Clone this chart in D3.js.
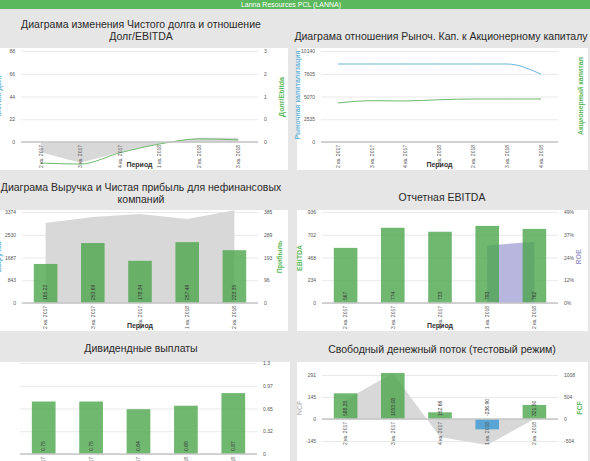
<!DOCTYPE html>
<html><head><meta charset="utf-8">
<script src="https://cdn.jsdelivr.net/npm/d3@7"></script>
<style>body{margin:0;background:#e6e6e6;font-family:"Liberation Sans",Arial,sans-serif}svg{display:block}</style>
</head><body><svg id="c" width="590" height="461"></svg>
<script>
const headerText = "Lanna Resources PCL (LANNA)";

// Panel 1: Net debt & Debt/EBITDA
const p1Cats = ["2 кв. 2017","3 кв. 2017","4 кв. 2017","1 кв. 2018","2 кв. 2018","3 кв. 2018"];
const p1NetDebt = [-10, -20, -10, -2, 4, 4];
const p1DebtEbitda = [-0.6, -0.63, -0.31, -0.06, 0.09, 0.06];
const p1LeftTicks = [0, 22, 44, 66, 88];
const p1LeftLabels = ["0","22","44","66","88"];
const p1RightTicks = [0, 0.65, 1.3, 1.95, 2.6];
const p1RightLabels = ["0","0","1","2","3"];

// Panel 2: Market cap vs equity
const p2Cats = ["2 кв. 2017","3 кв. 2017","4 кв. 2017","1 кв. 2018","2 кв. 2018","3 кв. 2018","4 кв. 2018"];
const p2MarketCap = [8690, 8690, 8690, 8690, 8690, 8690, 7550];
const p2Equity = [4350, 4600, 4570, 4710, 4790, 4790, 4790];
const p2LeftTicks = [0, 2535, 5070, 7605, 10140];
const p2LeftLabels = ["0","2535","5070","7605","10140"];

// Panel 3: Revenue & profit
const p3Cats = ["2 кв. 2017","3 кв. 2017","4 кв. 2017","1 кв. 2018","2 кв. 2018"];
const p3Revenue = [2966, 3189, 3300, 3115, 3440];
const p3Profit = [165.22, 253.69, 178.34, 257.49, 223.35];
const p3LeftTicks = [0, 843.5, 1687, 2530.5, 3374];
const p3LeftLabels = ["0","843","1687","2530","3374"];
const p3RightTicks = [0, 96.25, 192.5, 288.75, 385];
const p3RightLabels = ["0","96","193","289","385"];

// Panel 4: EBITDA & ROE
const p4Cats = ["2 кв. 2017","3 кв. 2017","4 кв. 2017","1 кв. 2018","2 кв. 2018"];
const p4Ebitda = [567, 774, 733, 793, 762];
const p4Roe = [null, null, null, 31, 33];
const p4LeftTicks = [0, 234, 468, 702, 936];
const p4LeftLabels = ["0","234","468","702","936"];
const p4RightTicks = [0, 12.25, 24.5, 36.75, 49];
const p4RightLabels = ["0%","12%","24%","37%","49%"];

// Panel 5: Dividends
const p5Cats = ["2 кв. 2017","3 кв. 2017","4 кв. 2017","1 кв. 2018","2 кв. 2018"];
const p5Dividends = [0.75, 0.75, 0.64, 0.69, 0.87];
const p5RightTicks = [0, 0.325, 0.65, 0.975, 1.3];
const p5RightLabels = ["0","0.32","0.65","0.97","1.3"];

// Panel 6: Free cash flow
const p6Cats = ["2 кв. 2017","3 кв. 2017","4 кв. 2017","1 кв. 2018","2 кв. 2018"];
const p6Fcf = [588.35, 1053.08, 152.66, -236.9, 321.5];
const p6Ncf = [126, 304, -119, -172, 0];
const p6LeftTicks = [-145.5, 0, 145.5, 291];
const p6LeftLabels = ["-145","0","145","291"];
const p6RightTicks = [-504, 0, 504, 1008];
const p6RightLabels = ["-504","0","504","1008"];

const C = {green:"#5cb85c", bar:"#4ca64c", line:"#6cbb6c", blue:"#6ab4d8", gray:"#d8d8d8",
  purple:"#b6b6de", purpleText:"#9c9cc8", negBlue:"#3a9ad6", tick:"#555", grid:"#e9e9e9", axis:"#c6c6c6"};

const svg = d3.select("#c");
svg.append("rect").attr("width",590).attr("height",461).attr("fill","#e6e6e6");
svg.append("rect").attr("width",590).attr("height",9).attr("fill",C.green);
svg.append("text").attr("x",291).attr("y",7).attr("text-anchor","middle").attr("fill","#fff")
  .attr("font-size",7).text(headerText);

function panel(o) {
  const g = svg.append("g");
  g.append("rect").attr("x",o.box[0]).attr("y",o.box[1]).attr("width",o.box[2]).attr("height",o.box[3]).attr("fill","#fff");
  o.title.forEach((t,i)=> g.append("text").attr("x",o.titleX).attr("y",o.titleY[i])
    .attr("text-anchor","middle").attr("font-size",o.titleSize).attr("fill","#2a2a2a").text(t));
  const x = d3.scaleBand().domain(o.cats).range([o.x0,o.x1]).paddingInner(0.5).paddingOuter(0.25);
  const yL = d3.scaleLinear().domain([0,o.lMax]).range([o.base,o.top]);
  const yR = d3.scaleLinear().domain([0,o.rMax]).range([o.base,o.top]);
  const grid = g.append("g").attr("transform",`translate(${o.x0},0)`)
    .call(d3.axisLeft(o.gridOnRight? yR : yL).tickValues(o.gridOnRight? o.rTicks : o.lTicks)
      .tickSize(-(o.x1-o.x0)).tickFormat(""));
  grid.select(".domain").remove();
  grid.selectAll("line").attr("stroke",C.grid);
  if (o.lTicks && o.lLabels) {
    const la = g.append("g").attr("transform",`translate(${o.x0},0)`)
      .call(d3.axisLeft(yL).tickValues(o.lTicks).tickSize(0).tickPadding(6).tickFormat((d,i)=>o.lLabels[i]));
    la.select(".domain").remove();
    la.selectAll("text").attr("font-size",5).attr("fill",C.tick).attr("font-family","Liberation Sans, Arial");
  }
  if (o.rTicks && o.rLabels) {
    const ra = g.append("g").attr("transform",`translate(${o.x1},0)`)
      .call(d3.axisRight(yR).tickValues(o.rTicks).tickSize(0).tickPadding(6).tickFormat((d,i)=>o.rLabels[i]));
    ra.select(".domain").remove();
    ra.selectAll("text").attr("font-size",5).attr("fill",C.tick).attr("font-family","Liberation Sans, Arial");
  }
  const layer = g.append("g");
  const xa = g.append("g");
  xa.append("line").attr("x1",o.x0).attr("x2",o.x1).attr("y1",o.base).attr("y2",o.base)
    .attr("stroke",C.axis).attr("stroke-width",1.5);
  xa.selectAll("text.xl").data(o.cats).join("text").attr("class","xl")
    .attr("transform",d=>`translate(${x(d)+x.bandwidth()/2},${o.base+3}) rotate(-90)`)
    .attr("text-anchor","end").attr("dy","0.35em").attr("font-size",5).attr("fill",C.tick).text(d=>d);
  if (o.xTitle) g.append("text").attr("x",(o.x0+o.x1)/2).attr("y",o.base+25).attr("text-anchor","middle")
    .attr("font-size",7).attr("font-weight","bold").attr("fill","#333").text(o.xTitle);
  (o.axisTitles||[]).forEach(a=>{
    g.append("text").attr("transform",`translate(${a.x},${a.y}) rotate(-90)`).attr("text-anchor","middle")
      .attr("font-size",a.size||7).attr("font-weight","bold").attr("fill",a.color).text(a.text);
  });
  return {g, layer, x, yL, yR, cx: d=>x(d)+x.bandwidth()/2};
}

function bars(p, cats, vals, y, colorFn) {
  p.layer.append("g").selectAll("rect").data(vals).join("rect")
    .attr("x",(d,i)=>p.x(cats[i])).attr("width",p.x.bandwidth())
    .attr("y",d=>Math.min(y(d),y(0))).attr("height",d=>Math.abs(y(d)-y(0)))
    .attr("fill",d=>colorFn(d)).attr("fill-opacity",0.8);
}
function barLabels(p, cats, vals, y, fmt) {
  p.g.append("g").selectAll("text").data(vals).join("text")
    .attr("transform",(d,i)=>`translate(${p.cx(cats[i])},${y(0)-3}) rotate(-90)`)
    .attr("dy","0.35em").attr("font-size",5).attr("fill","#333").text(d=>fmt(d));
}
function area(p, cats, vals, y, fill) {
  const ar = d3.area().defined(d=>d!=null).x((d,i)=>p.cx(cats[i])).y0(y(0)).y1(d=>y(d));
  p.layer.append("path").datum(vals).attr("d",ar).attr("fill",fill);
}
function line(p, cats, vals, y, stroke) {
  const ln = d3.line().x((d,i)=>p.cx(cats[i])).y(d=>y(d)).curve(d3.curveMonotoneX);
  p.layer.append("path").datum(vals).attr("d",ln).attr("fill","none").attr("stroke",stroke).attr("stroke-width",1);
}

const TS = 10.5;

// ---- Panel 1
const P1 = panel({box:[0,48,288,122], title:["Диаграма изменения Чистого долга и отношение","Долг/EBITDA"],
  titleX:141, titleY:[28,40], titleSize:TS, cats:p1Cats, x0:21, x1:258, base:142, top:51,
  lMax:88, rMax:2.6, lTicks:p1LeftTicks, lLabels:p1LeftLabels, rTicks:p1RightTicks, rLabels:p1RightLabels,
  xTitle:"Период", axisTitles:[{x:1,y:97,text:"Чистый долг",color:C.blue},{x:284,y:97,text:"Долг/Ebitda",color:C.green}]});
area(P1, p1Cats, p1NetDebt, P1.yL, C.gray);
line(P1, p1Cats, p1DebtEbitda, P1.yR, C.line);

// ---- Panel 2
const P2 = panel({box:[297,48,291,122], title:["Диаграма отношения Рыноч. Кап. к Акционерному капиталу"],
  titleX:441, titleY:[40], titleSize:TS, cats:p2Cats, x0:321, x1:558, base:142, top:51,
  lMax:10140, rMax:10140, lTicks:p2LeftTicks, lLabels:p2LeftLabels,
  xTitle:"Период", axisTitles:[{x:300,y:95,text:"Рыночная капитализация",color:C.blue},{x:583,y:96,text:"Акционерный капитал",color:C.green}]});
line(P2, p2Cats, p2MarketCap, P2.yL, C.blue);
line(P2, p2Cats, p2Equity, P2.yL, C.line);

// ---- Panel 3
const P3 = panel({box:[0,210,288,121], title:["Диаграма Выручка и Чистая прибыль для нефинансовых","компаний"],
  titleX:141, titleY:[191,203], titleSize:TS, cats:p3Cats, x0:22, x1:258, base:303, top:212,
  lMax:3374, rMax:385, lTicks:p3LeftTicks, lLabels:p3LeftLabels, rTicks:p3RightTicks, rLabels:p3RightLabels,
  xTitle:"Период", axisTitles:[{x:1,y:257,text:"Выручка",color:C.blue},{x:282,y:257,text:"Прибыль",color:C.green}]});
area(P3, p3Cats, p3Revenue, P3.yL, C.gray);
bars(P3, p3Cats, p3Profit, P3.yR, ()=>C.bar);
barLabels(P3, p3Cats, p3Profit, P3.yR, d=>d.toFixed(2));

// ---- Panel 4
const P4 = panel({box:[297,210,291,121], title:["Отчетная EBITDA"],
  titleX:442, titleY:[201], titleSize:TS, cats:p4Cats, x0:322, x1:558, base:303, top:212,
  lMax:936, rMax:49, lTicks:p4LeftTicks, lLabels:p4LeftLabels, rTicks:p4RightTicks, rLabels:p4RightLabels,
  xTitle:"Период", axisTitles:[{x:302,y:258,text:"EBITDA",color:C.green},{x:581,y:257,text:"ROE",color:C.purpleText}]});
area(P4, p4Cats, p4Roe, P4.yR, C.purple);
bars(P4, p4Cats, p4Ebitda, P4.yL, ()=>C.bar);
barLabels(P4, p4Cats, p4Ebitda, P4.yL, d=>String(d));

// ---- Panel 5
const P5 = panel({box:[0,362,290,99], title:["Дивидендные выплаты"],
  titleX:141, titleY:[352], titleSize:TS, cats:p5Cats, x0:20, x1:257, base:454, top:363,
  lMax:1.3, rMax:1.3, gridOnRight:true, rTicks:p5RightTicks, rLabels:p5RightLabels});
bars(P5, p5Cats, p5Dividends, P5.yR, ()=>C.bar);
barLabels(P5, p5Cats, p5Dividends, P5.yR, d=>d.toFixed(2));

// ---- Panel 6
const P6 = panel({box:[297,362,291,99], title:["Свободный денежный поток (тестовый режим)"],
  titleX:442, titleY:[353], titleSize:TS, cats:p6Cats, x0:322, x1:558, base:419, top:375,
  lMax:291, rMax:1008, lTicks:p6LeftTicks, lLabels:p6LeftLabels, rTicks:p6RightTicks, rLabels:p6RightLabels,
  axisTitles:[{x:302,y:408,text:"NCF",color:"#bbbbbb"},{x:582,y:408,text:"FCF",color:C.green}]});
area(P6, p6Cats, p6Ncf, P6.yL, C.gray);
bars(P6, p6Cats, p6Fcf, P6.yR, d=> d<0 ? C.negBlue : C.bar);
barLabels(P6, p6Cats, p6Fcf, P6.yR, d=>d.toFixed(2));
</script></body></html>
